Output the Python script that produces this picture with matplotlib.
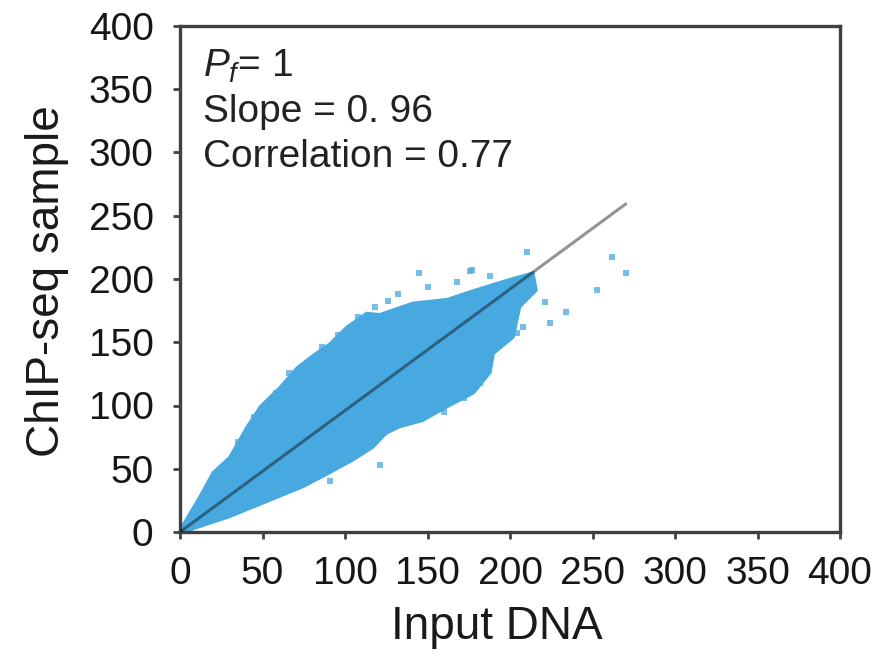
import matplotlib
matplotlib.use("Agg")
import matplotlib.pyplot as plt
import numpy as np

plt.rcParams['font.family'] = ['Liberation Sans', 'DejaVu Sans']
plt.rcParams['mathtext.fontset'] = 'custom'
plt.rcParams['mathtext.rm'] = 'Liberation Sans'
plt.rcParams['mathtext.it'] = 'Liberation Sans:italic'

# ---- data ----
# outline of the dense point cloud (Input DNA, ChIP-seq sample), clockwise from origin
cloud_x = [0, 2, 12, 20, 30, 40.5, 48.5, 61, 71, 81, 91, 101, 113, 121, 141, 162, 178, 198, 214,
           216, 206, 202, 190, 188, 178, 162, 147,
           133, 125, 117, 105, 91, 75, 54.5, 30, 6, 0]
cloud_y = [0, 6, 28, 47, 59, 83, 99, 115, 130, 140, 149, 162, 173, 172, 181, 184, 191, 199, 205,
           191, 178, 154, 141, 126, 110, 99, 88,
           83, 78, 67, 57, 47, 36, 25, 12, 1.6, 0]
# scattered points around the dense cloud
out_x = [210, 262, 270, 253, 234, 224, 221, 177, 188, 145, 176, 121, 91, 126, 153, 204,
         35, 45, 58, 66, 86, 96, 108, 118, 132, 150, 168, 195, 200, 208, 185, 182, 172, 160]
out_y = [221, 217, 205, 191, 174, 165, 182, 207, 202, 205, 206, 53, 40, 183, 130, 157,
         71, 91, 110, 126, 146, 156, 170, 178, 188, 194, 198, 190, 172, 162, 132, 118, 106, 95]
# fitted line
slope = 0.96
fit_x = np.array([0, 270])
annot = [r'$P_f$= 1', 'Slope = 0. 96', 'Correlation = 0.77']
ticks = [0, 50, 100, 150, 200, 250, 300, 350, 400]

fig = plt.figure(figsize=(8.88, 6.57), dpi=100)
ax = fig.add_axes([180/888, 1-532/657, 660/888, 506/657])

blue = '#48a9e1'
ax.fill(cloud_x, cloud_y, color=blue, lw=2, ec=blue, zorder=2)
ax.scatter(out_x, out_y, s=14, marker='s', color=blue, alpha=0.75, lw=0, zorder=2)
ax.plot(fit_x, slope*fit_x, color='black', alpha=0.42, lw=2.2, zorder=3)

ax.set_xlim(0, 400)
ax.set_ylim(0, 400)
ax.set_xticks(ticks)
ax.set_yticks(ticks)
ax.tick_params(direction='out', length=5, width=2, color='#444444',
               labelsize=28, labelcolor='#161616')
ax.tick_params(axis='x', pad=12)
ax.tick_params(axis='y', pad=14)
for s in ax.spines.values():
    s.set_linewidth(2.4)
    s.set_color('#404040')

ax.set_xlabel('Input DNA', fontsize=33, color='#1a1a1a')
ax.set_ylabel('ChIP-seq sample', fontsize=33, color='#1a1a1a')
ax.xaxis.set_label_coords(0.48, -0.145)
ax.yaxis.set_label_coords(-0.168, 0.496)

for txt, yy in zip(annot, [0.899, 0.810, 0.721]):
    ax.text(0.035, yy, txt, transform=ax.transAxes, fontsize=28, color='#222222',
            va='baseline', ha='left')

fig.savefig('out.png', dpi=100)
